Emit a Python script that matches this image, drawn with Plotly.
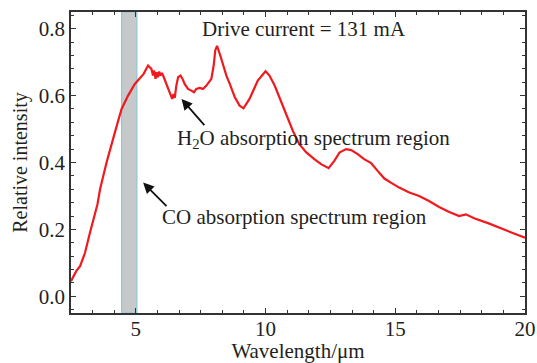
import plotly.graph_objects as go

wavelength = [2.5, 2.6, 2.7, 2.85, 3.04, 3.23, 3.42, 3.47, 3.52, 3.62, 3.87, 4.12, 4.26, 4.3, 4.45,
              4.7, 4.96, 5.15, 5.3, 5.47, 5.52, 5.6, 5.66, 5.7, 5.76, 5.8, 5.85, 5.9, 5.95, 6.0,
              6.05, 6.15, 6.24, 6.35, 6.4, 6.45, 6.5, 6.56, 6.63, 6.72, 6.8, 6.88, 7.01, 7.14, 7.24,
              7.33, 7.46, 7.59, 7.72, 7.91, 8.0, 8.06, 8.13, 8.23, 8.36, 8.49, 8.62, 8.81, 9.0, 9.15,
              9.38, 9.7, 10.0, 10.15, 10.35, 10.6, 10.8, 11.05, 11.3, 11.57, 11.88, 12.14, 12.43, 12.65, 12.85,
              13.1, 13.3, 13.55, 13.8, 14.07, 14.32, 14.58, 14.83, 15.15, 15.54, 15.92, 16.3, 16.69, 17.08, 17.46,
              17.72, 18.04, 18.6, 19.0, 19.5, 20.0]
intensity = [0.045, 0.06, 0.075, 0.09, 0.13, 0.19, 0.25, 0.265, 0.275, 0.32, 0.40, 0.47, 0.515, 0.52, 0.56,
             0.60, 0.635, 0.65, 0.665, 0.69, 0.685, 0.68, 0.66, 0.675, 0.65, 0.67, 0.655, 0.672, 0.66, 0.668,
             0.66, 0.64, 0.62, 0.60, 0.59, 0.605, 0.593, 0.63, 0.655, 0.66, 0.65, 0.635, 0.62, 0.615, 0.61,
             0.62, 0.623, 0.62, 0.63, 0.65, 0.69, 0.735, 0.749, 0.726, 0.69, 0.66, 0.635, 0.596, 0.57, 0.562,
             0.59, 0.645, 0.673, 0.66, 0.63, 0.58, 0.54, 0.495, 0.455, 0.43, 0.41, 0.395, 0.383, 0.405, 0.43,
             0.44, 0.437, 0.425, 0.41, 0.398, 0.375, 0.352, 0.34, 0.325, 0.31, 0.30, 0.285, 0.267, 0.252, 0.24,
             0.245, 0.233, 0.218, 0.205, 0.19, 0.175]
assert len(wavelength) == len(intensity)

co_band = [4.45, 5.04]
x_ticks = [5, 10, 15, 20]
y_ticks = [0.0, 0.2, 0.4, 0.6, 0.8]

FONT = "Liberation Serif"
TXT = "#231f20"
FS = 21

fig = go.Figure()
fig.add_shape(type="rect", xref="x", yref="y", x0=co_band[0], x1=co_band[1], y0=-0.05, y1=0.85,
              fillcolor="#c6c8ca", line=dict(color="#86ccd6", width=1.2), layer="below")
fig.add_trace(go.Scatter(x=wavelength, y=intensity, mode="lines",
                         line=dict(color="#f0191e", width=2.2), showlegend=False))

fig.add_annotation(x=7.46, y=0.80, text="Drive current = 131 mA", showarrow=False,
                   xanchor="left", yanchor="middle", font=dict(size=FS, color=TXT, family=FONT))
fig.add_annotation(x=6.5, y=0.47, text="H<sub>2</sub>O absorption spectrum region", showarrow=False,
                   xanchor="left", yanchor="middle", font=dict(size=FS, color=TXT, family=FONT))
fig.add_annotation(x=5.92, y=0.236, text="CO absorption spectrum region", showarrow=False,
                   xanchor="left", yanchor="middle", font=dict(size=FS, color=TXT, family=FONT))
# arrows
fig.add_annotation(x=6.76, y=0.59, ax=7.69, ay=0.507, axref="x", ayref="y", xref="x", yref="y",
                   text="", showarrow=True, arrowhead=2, arrowsize=1.2, arrowwidth=1.8, arrowcolor="#111")
fig.add_annotation(x=5.28, y=0.34, ax=6.24, ay=0.265, axref="x", ayref="y", xref="x", yref="y",
                   text="", showarrow=True, arrowhead=2, arrowsize=1.2, arrowwidth=1.8, arrowcolor="#111")

axis_common = dict(showline=True, linecolor="#333", linewidth=1.6, mirror="ticks",
                   ticks="inside", ticklen=5, tickwidth=1.2, tickcolor="#333",
                   showgrid=False, zeroline=False, automargin=False,
                   tickfont=dict(size=FS, color=TXT, family=FONT))
fig.update_xaxes(range=[2.5, 20], tickvals=x_ticks, ticktext=[str(v) for v in x_ticks],
                 ticklabelstandoff=-4,
                 minor=dict(dtick=5/6, tick0=0, ticks="inside", ticklen=3, tickcolor="#333"),
                 title=dict(text="Wavelength/μm", font=dict(size=FS, color=TXT, family=FONT), standoff=0),
                 **axis_common)
fig.update_yaxes(range=[-0.05, 0.85], tickvals=y_ticks, ticktext=[f"{v:.1f}" for v in y_ticks],
                 minor=dict(dtick=0.04, tick0=0, ticks="inside", ticklen=3, tickcolor="#333"),
                 title=dict(text="Relative intensity", font=dict(size=20, color=TXT, family=FONT), standoff=6),
                 **axis_common)
fig.update_layout(width=537, height=363, margin=dict(l=71, r=12, t=12, b=50),
                  plot_bgcolor="white", paper_bgcolor="white", font=dict(family=FONT))
fig.write_html("out.html")
